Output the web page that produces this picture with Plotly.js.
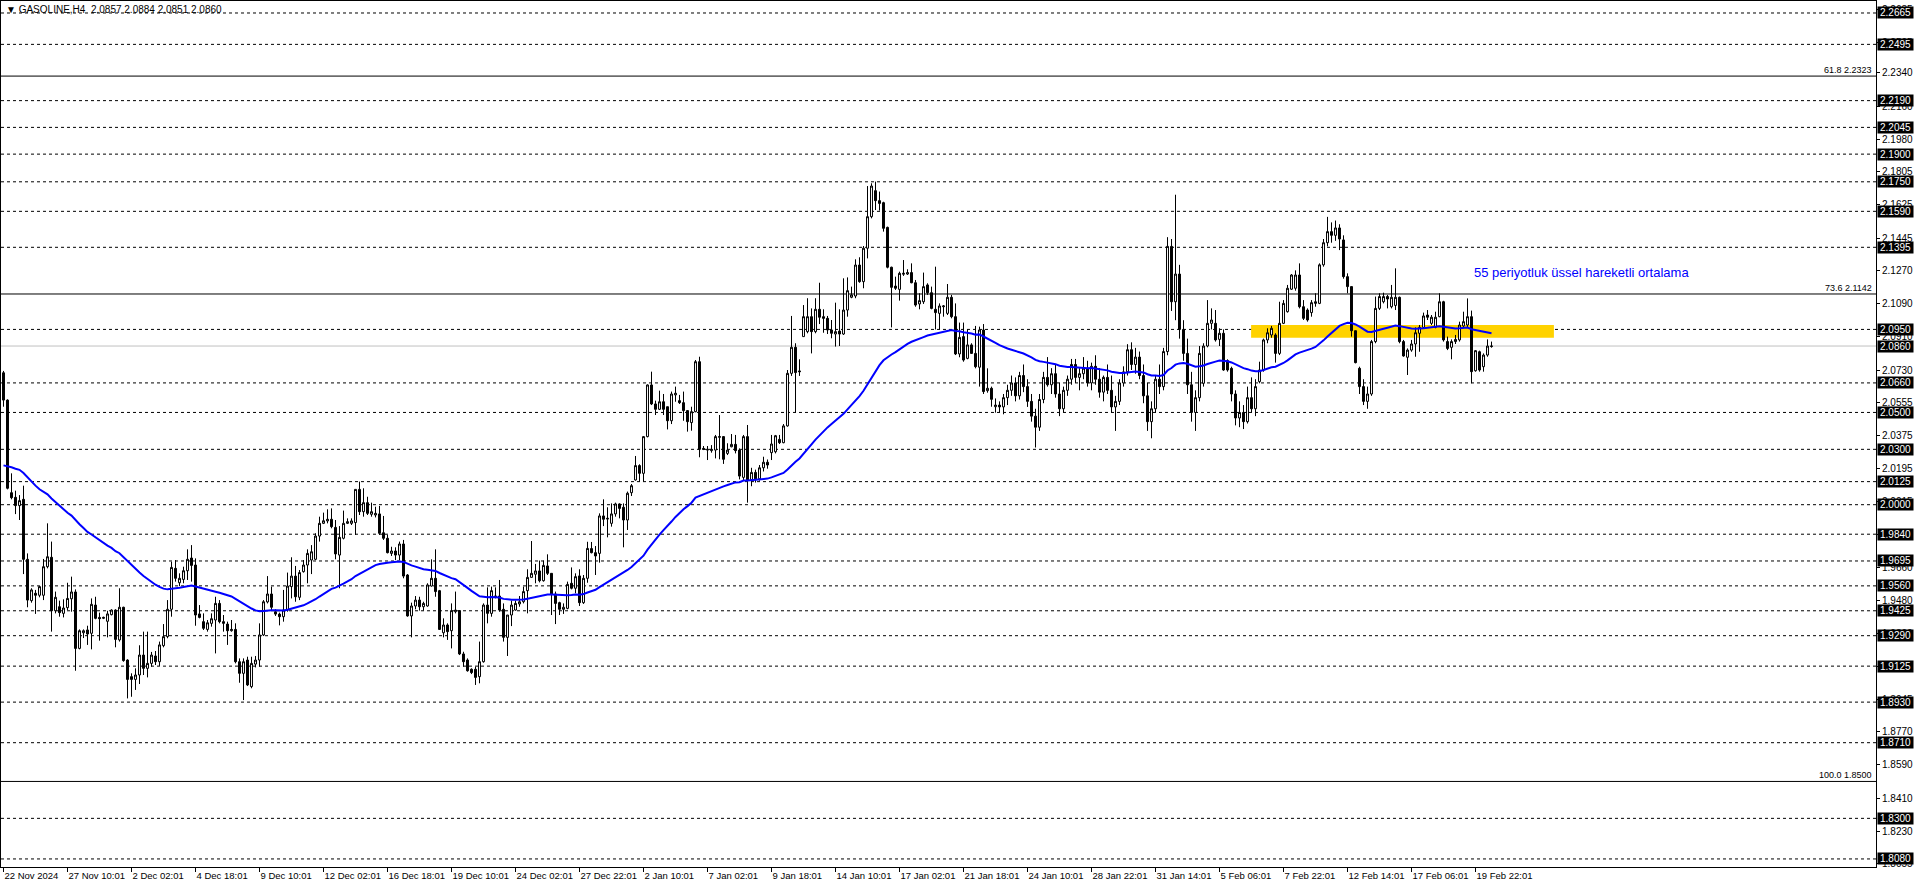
<!DOCTYPE html>
<html><head><meta charset="utf-8">
<script src="https://cdn.plot.ly/plotly-3.0.1.min.js"></script>
<style>html,body{margin:0;padding:0;background:#fff;overflow:hidden}#chart{width:1916px;height:888px}</style>
</head><body><div id="chart"></div>
<script>
const symbolTitle = "\u25BC GASOLINE,H4  2.0857 2.0884 2.0851 2.0860";

const openP = [
2.0715,2.0567,2.0065,2.0040,1.9995,2.0029,1.9704,1.9480,1.9520,1.9509,
1.9509,1.9664,1.9715,1.9425,1.9447,1.9411,1.9442,1.9490,1.9527,1.9221,
1.9306,1.9321,1.9303,1.9456,1.9389,1.9384,1.9368,1.9404,1.9429,1.9267,
1.9444,1.9158,1.9068,1.9053,1.9077,1.9185,1.9113,1.9140,1.9180,1.9149,
1.9236,1.9285,1.9433,1.9655,1.9577,1.9595,1.9642,1.9711,1.9673,1.9408,
1.9366,1.9324,1.9357,1.9375,1.9465,1.9366,1.9353,1.9317,1.9324,1.9149,
1.9086,1.9158,1.9014,1.9136,1.9158,1.9294,1.9473,1.9516,1.9420,1.9407,
1.9393,1.9429,1.9556,1.9613,1.9498,1.9637,1.9673,1.9700,1.9704,1.9830,
1.9899,1.9912,1.9921,1.9877,1.9727,1.9818,1.9899,1.9899,1.9903,2.0083,
1.9962,2.0011,1.9948,1.9944,1.9950,1.9848,1.9818,1.9736,1.9749,1.9727,
1.9787,1.9619,1.9397,1.9451,1.9483,1.9447,1.9451,1.9559,1.9601,1.9534,
1.9306,1.9348,1.9317,1.9420,1.9426,1.9191,1.9158,1.9108,1.9108,1.9068,
1.9149,1.9456,1.9411,1.9498,1.9505,1.9433,1.9281,1.9402,1.9429,1.9462,
1.9474,1.9534,1.9606,1.9623,1.9641,1.9588,1.9668,1.9628,1.9516,1.9469,
1.9433,1.9438,1.9574,1.9547,1.9614,1.9469,1.9601,1.9762,1.9740,1.9736,
1.9939,1.9922,1.9899,1.9950,2.0004,1.9986,1.9917,2.0065,2.0134,2.0212,
2.0170,2.0369,2.0649,2.0546,2.0517,2.0558,2.0531,2.0455,2.0595,2.0564,
2.0553,2.0510,2.0445,2.0504,2.0775,2.0305,2.0296,2.0293,2.0296,2.0365,
2.0369,2.0278,2.0314,2.0327,2.0296,2.0148,2.0369,2.0134,2.0175,2.0140,
2.0200,2.0230,2.0282,2.0287,2.0354,2.0336,2.0427,2.0712,2.0853,2.0725,
2.0911,2.0938,2.1019,2.0938,2.1059,2.1019,2.1010,2.0947,2.0925,2.0941,
2.0925,2.1055,2.1124,2.1131,2.1299,2.1209,2.1390,2.1561,2.1702,2.1648,
2.1637,2.1503,2.1287,2.1185,2.1167,2.1249,2.1250,2.1258,2.1203,2.1088,
2.1100,2.1191,2.1149,2.1059,2.1037,2.1073,2.1037,2.1124,2.1019,2.0817,
2.0911,2.0793,2.0866,2.0820,2.0745,2.0947,2.0618,2.0631,2.0531,2.0540,
2.0530,2.0580,2.0620,2.0660,2.0590,2.0700,2.0640,2.0560,2.0480,2.0420,
2.0570,2.0690,2.0650,2.0710,2.0600,2.0520,2.0620,2.0680,2.0760,2.0690,
2.0710,2.0740,2.0660,2.0750,2.0680,2.0610,2.0690,2.0620,2.0530,2.0560,
2.0660,2.0720,2.0840,2.0760,2.0800,2.0700,2.0590,2.0450,2.0520,2.0680,
2.0640,2.0830,2.1400,2.1100,2.1250,2.0950,2.0820,2.0650,2.0500,2.0580,
2.0658,2.0860,2.0983,2.0983,2.0896,2.0929,2.0781,2.0739,2.0600,2.0470,
2.0500,2.0450,2.0580,2.0520,2.0667,2.0730,2.0893,2.0920,2.0920,2.0820,
2.0983,2.1046,2.1168,2.1173,2.1245,2.1073,2.1055,2.1041,2.1091,2.1091,
2.1300,2.1420,2.1480,2.1460,2.1500,2.1435,2.1236,2.1182,2.0943,2.0739,
2.0640,2.0560,2.0600,2.0884,2.1064,2.1100,2.1128,2.1073,2.1080,2.1124,
2.0884,2.0799,2.0838,2.0871,2.0929,2.0961,2.1028,2.0983,2.0961,2.1019,
2.1100,2.0884,2.0853,2.0884,2.0893,2.0969,2.0974,2.1019,2.0726,2.0829,
2.0748,2.0811,2.0857
];
const highP = [
2.0725,2.0571,2.0170,2.0076,2.0052,2.0103,1.9736,1.9547,1.9538,1.9559,
1.9706,1.9899,1.9800,1.9529,1.9480,1.9487,1.9577,1.9610,1.9541,1.9324,
1.9324,1.9344,1.9492,1.9501,1.9415,1.9393,1.9425,1.9433,1.9433,1.9547,
1.9447,1.9162,1.9086,1.9113,1.9238,1.9312,1.9312,1.9202,1.9207,1.9258,
1.9353,1.9483,1.9691,1.9700,1.9628,1.9664,1.9758,1.9781,1.9709,1.9456,
1.9411,1.9375,1.9411,1.9501,1.9483,1.9402,1.9366,1.9375,1.9357,1.9167,
1.9167,1.9176,1.9176,1.9180,1.9357,1.9483,1.9613,1.9556,1.9433,1.9415,
1.9538,1.9632,1.9715,1.9668,1.9646,1.9700,1.9758,1.9781,1.9845,1.9935,
1.9957,1.9975,1.9980,1.9917,1.9884,1.9968,1.9926,1.9926,2.0083,2.0125,
2.0089,2.0043,2.0011,1.9989,1.9993,1.9939,1.9836,1.9772,1.9769,1.9800,
1.9809,1.9624,1.9469,1.9505,1.9501,1.9474,1.9574,1.9704,1.9758,1.9538,
1.9384,1.9357,1.9465,1.9529,1.9429,1.9203,1.9167,1.9113,1.9122,1.9258,
1.9465,1.9552,1.9556,1.9552,1.9592,1.9465,1.9402,1.9480,1.9480,1.9505,
1.9556,1.9650,1.9803,1.9679,1.9697,1.9697,1.9731,1.9628,1.9529,1.9474,
1.9465,1.9583,1.9660,1.9628,1.9650,1.9619,1.9799,1.9798,1.9776,1.9953,
2.0029,1.9986,2.0007,2.0011,2.0007,2.0007,2.0071,2.0112,2.0264,2.0219,
2.0372,2.0652,2.0721,2.0564,2.0618,2.0600,2.0531,2.0613,2.0640,2.0595,
2.0613,2.0513,2.0531,2.0784,2.0802,2.0318,2.0318,2.0323,2.0378,2.0486,
2.0372,2.0333,2.0383,2.0378,2.0305,2.0378,2.0432,2.0200,2.0190,2.0215,
2.0260,2.0245,2.0378,2.0378,2.0378,2.0437,2.0730,2.1023,2.0875,2.0788,
2.1082,2.1119,2.1064,2.1119,2.1203,2.1059,2.1023,2.1001,2.1095,2.1059,
2.1227,2.1232,2.1182,2.1330,2.1341,2.1402,2.1727,2.1742,2.1751,2.1697,
2.1642,2.1507,2.1290,2.1236,2.1263,2.1326,2.1276,2.1308,2.1218,2.1146,
2.1258,2.1200,2.1182,2.1290,2.1091,2.1082,2.1196,2.1137,2.1091,2.0987,
2.0987,2.0950,2.0875,2.0969,2.0965,2.0979,2.0739,2.0640,2.0576,2.0560,
2.0600,2.0650,2.0700,2.0690,2.0720,2.0760,2.0680,2.0600,2.0520,2.0600,
2.0720,2.0800,2.0740,2.0760,2.0660,2.0640,2.0700,2.0790,2.0790,2.0740,
2.0800,2.0780,2.0770,2.0810,2.0740,2.0700,2.0760,2.0700,2.0590,2.0680,
2.0750,2.0870,2.0880,2.0850,2.0830,2.0760,2.0660,2.0560,2.0700,2.0760,
2.0850,2.1450,2.1440,2.1680,2.1300,2.1000,2.0900,2.0720,2.0620,2.0860,
2.0875,2.1109,2.1064,2.1055,2.0956,2.0950,2.0788,2.0748,2.0620,2.0560,
2.0540,2.0640,2.0690,2.0680,2.0775,2.0900,2.0956,2.0969,2.0929,2.1100,
2.1109,2.1191,2.1250,2.1270,2.1308,2.1109,2.1064,2.1109,2.1146,2.1308,
2.1440,2.1560,2.1530,2.1540,2.1520,2.1460,2.1254,2.1182,2.0943,2.0748,
2.0680,2.0640,2.0893,2.1128,2.1146,2.1149,2.1137,2.1191,2.1281,2.1128,
2.0893,2.0847,2.0893,2.0961,2.0974,2.1041,2.1055,2.1028,2.1046,2.1146,
2.1105,2.0911,2.0896,2.0920,2.0992,2.1046,2.1118,2.1052,2.0838,2.0835,
2.0820,2.0896,2.0884
];
const lowP = [
2.0531,2.0083,2.0029,1.9949,1.9917,1.9624,1.9444,1.9469,1.9408,1.9498,
1.9483,1.9655,1.9312,1.9411,1.9393,1.9389,1.9429,1.9420,1.9100,1.9216,
1.9277,1.9240,1.9216,1.9379,1.9263,1.9380,1.9281,1.9400,1.9227,1.9258,
1.9149,1.8950,1.8959,1.8996,1.9028,1.9077,1.9064,1.9122,1.9131,1.9126,
1.9227,1.9276,1.9393,1.9583,1.9559,1.9574,1.9592,1.9583,1.9344,1.9384,
1.9321,1.9312,1.9339,1.9194,1.9357,1.9312,1.9240,1.9312,1.9140,1.9035,
1.8941,1.9017,1.9005,1.9118,1.9122,1.9288,1.9465,1.9429,1.9397,1.9346,
1.9366,1.9420,1.9492,1.9474,1.9483,1.9632,1.9574,1.9624,1.9700,1.9800,
1.9895,1.9899,1.9872,1.9704,1.9547,1.9812,1.9895,1.9890,1.9836,1.9944,
1.9935,1.9944,1.9935,1.9931,1.9836,1.9809,1.9736,1.9722,1.9700,1.9700,
1.9601,1.9393,1.9281,1.9433,1.9426,1.9426,1.9447,1.9556,1.9501,1.9321,
1.9281,1.9267,1.9221,1.9411,1.9185,1.9122,1.9095,1.9082,1.9023,1.9032,
1.9144,1.9357,1.9393,1.9492,1.9420,1.9258,1.9180,1.9342,1.9426,1.9447,
1.9465,1.9411,1.9606,1.9574,1.9579,1.9583,1.9619,1.9402,1.9353,1.9402,
1.9408,1.9433,1.9541,1.9520,1.9451,1.9462,1.9577,1.9736,1.9619,1.9686,
1.9884,1.9823,1.9881,1.9935,1.9926,1.9769,1.9863,2.0047,2.0130,2.0125,
2.0125,2.0365,2.0540,2.0486,2.0513,2.0486,2.0408,2.0437,2.0558,2.0546,
2.0455,2.0396,2.0401,2.0501,2.0257,2.0296,2.0242,2.0282,2.0251,2.0246,
2.0221,2.0269,2.0311,2.0278,2.0137,2.0134,2.0011,2.0100,2.0120,2.0130,
2.0180,2.0195,2.0242,2.0278,2.0329,2.0333,2.0423,2.0698,2.0499,2.0698,
2.0911,2.0929,2.0820,2.0929,2.0979,2.0932,2.0925,2.0902,2.0857,2.0860,
2.0920,2.1019,2.1119,2.1119,2.1203,2.1173,2.1335,2.1552,2.1597,2.1594,
2.1480,2.1281,2.0961,2.1164,2.1106,2.1240,2.1245,2.1200,2.1073,2.1059,
2.1088,2.1137,2.1059,2.0950,2.0950,2.1019,2.1028,2.1010,2.0811,2.0799,
2.0775,2.0788,2.0817,2.0739,2.0640,2.0600,2.0607,2.0531,2.0499,2.0500,
2.0490,2.0540,2.0590,2.0560,2.0570,2.0610,2.0530,2.0450,2.0310,2.0400,
2.0550,2.0640,2.0600,2.0580,2.0480,2.0500,2.0590,2.0650,2.0660,2.0620,
2.0680,2.0640,2.0620,2.0650,2.0580,2.0560,2.0600,2.0500,2.0400,2.0540,
2.0640,2.0700,2.0730,2.0710,2.0680,2.0550,2.0400,2.0360,2.0500,2.0600,
2.0620,2.0810,2.1050,2.1000,2.0900,2.0780,2.0600,2.0450,2.0400,2.0560,
2.0640,2.0853,2.0950,2.0884,2.0860,2.0726,2.0721,2.0560,2.0430,2.0420,
2.0410,2.0440,2.0500,2.0480,2.0658,2.0721,2.0875,2.0905,2.0770,2.0811,
2.0979,2.1041,2.1164,2.1160,2.1064,2.1001,2.0992,2.1019,2.1073,2.1087,
2.1290,2.1400,2.1420,2.1430,2.1380,2.1225,2.1146,2.0911,2.0766,2.0600,
2.0540,2.0520,2.0590,2.0875,2.1055,2.1091,2.1064,2.1064,2.1055,2.0875,
2.0802,2.0703,2.0829,2.0802,2.0829,2.0956,2.1001,2.0974,2.0956,2.1016,
2.0884,2.0838,2.0788,2.0871,2.0884,2.0961,2.0961,2.0658,2.0721,2.0721,
2.0721,2.0802,2.0851
];
const closeP = [
2.0567,2.0089,2.0038,1.9995,2.0022,1.9704,1.9483,1.9538,1.9509,1.9556,
1.9664,1.9718,1.9425,1.9498,1.9415,1.9440,1.9492,1.9527,1.9221,1.9317,
1.9317,1.9299,1.9460,1.9384,1.9382,1.9389,1.9408,1.9429,1.9270,1.9444,
1.9155,1.9053,1.9053,1.9077,1.9185,1.9113,1.9140,1.9185,1.9149,1.9240,
1.9285,1.9433,1.9660,1.9601,1.9601,1.9642,1.9704,1.9671,1.9402,1.9389,
1.9330,1.9360,1.9382,1.9465,1.9366,1.9357,1.9317,1.9324,1.9149,1.9086,
1.9149,1.9023,1.9140,1.9158,1.9294,1.9474,1.9516,1.9444,1.9407,1.9393,
1.9429,1.9559,1.9613,1.9501,1.9632,1.9673,1.9736,1.9745,1.9830,1.9899,
1.9913,1.9921,1.9881,1.9733,1.9823,1.9899,1.9908,1.9912,2.0083,1.9962,
2.0011,1.9953,1.9962,1.9953,1.9845,1.9818,1.9740,1.9749,1.9727,1.9787,
1.9613,1.9397,1.9451,1.9483,1.9447,1.9465,1.9565,1.9601,1.9529,1.9324,
1.9348,1.9312,1.9426,1.9429,1.9191,1.9149,1.9100,1.9090,1.9064,1.9149,
1.9456,1.9411,1.9534,1.9505,1.9429,1.9281,1.9402,1.9456,1.9465,1.9474,
1.9529,1.9606,1.9628,1.9641,1.9588,1.9671,1.9628,1.9516,1.9465,1.9433,
1.9444,1.9568,1.9547,1.9610,1.9469,1.9601,1.9763,1.9740,1.9722,1.9939,
1.9921,1.9926,1.9950,2.0004,1.9980,1.9917,2.0062,2.0103,2.0212,2.0170,
2.0369,2.0649,2.0546,2.0517,2.0558,2.0517,2.0455,2.0600,2.0604,2.0553,
2.0510,2.0450,2.0504,2.0775,2.0300,2.0300,2.0300,2.0300,2.0369,2.0369,
2.0246,2.0296,2.0327,2.0293,2.0155,2.0369,2.0134,2.0175,2.0140,2.0200,
2.0230,2.0215,2.0329,2.0374,2.0336,2.0427,2.0712,2.0853,2.0716,2.0721,
2.1019,2.1019,2.0938,2.1059,2.1016,2.1010,2.0947,2.0929,2.0938,2.0925,
2.1055,2.1160,2.1137,2.1299,2.1209,2.1390,2.1561,2.1727,2.1648,2.1633,
2.1498,2.1287,2.1178,2.1173,2.1254,2.1254,2.1258,2.1203,2.1082,2.1106,
2.1182,2.1149,2.1064,2.1041,2.1077,2.1077,2.1124,2.1019,2.0817,2.0907,
2.0784,2.0866,2.0820,2.0748,2.0947,2.0613,2.0631,2.0571,2.0540,2.0530,
2.0580,2.0620,2.0660,2.0590,2.0700,2.0640,2.0560,2.0480,2.0420,2.0570,
2.0690,2.0650,2.0710,2.0600,2.0520,2.0620,2.0680,2.0760,2.0690,2.0710,
2.0740,2.0660,2.0750,2.0680,2.0610,2.0690,2.0620,2.0530,2.0560,2.0660,
2.0720,2.0840,2.0760,2.0800,2.0700,2.0590,2.0450,2.0520,2.0680,2.0640,
2.0830,2.1400,2.1100,2.1250,2.0950,2.0820,2.0650,2.0500,2.0580,2.0820,
2.0860,2.0983,2.1001,2.0893,2.0929,2.0730,2.0730,2.0600,2.0470,2.0500,
2.0450,2.0580,2.0520,2.0640,2.0730,2.0893,2.0932,2.0956,2.0820,2.0983,
2.1091,2.1173,2.1245,2.1245,2.1073,2.1010,2.1001,2.1095,2.1100,2.1300,
2.1420,2.1480,2.1460,2.1500,2.1440,2.1236,2.1182,2.0943,2.0770,2.0640,
2.0560,2.0600,2.0884,2.1064,2.1128,2.1128,2.1115,2.1124,2.1124,2.0884,
2.0806,2.0838,2.0871,2.0932,2.0961,2.1023,2.1016,2.1016,2.1016,2.1100,
2.0893,2.0847,2.0884,2.0896,2.0974,2.0992,2.1019,2.0721,2.0835,2.0730,
2.0811,2.0860,2.0860
];

const tickIdx = [0,16,32,48,64,80,96,112,128,144,160,176,192,208,224,240,256,272,288,304,320,336,352,368];
const tickLabels = ["22 Nov 2024","27 Nov 10:01","2 Dec 02:01","4 Dec 18:01","9 Dec 10:01","12 Dec 02:01",
"16 Dec 18:01","19 Dec 10:01","24 Dec 02:01","27 Dec 22:01","2 Jan 10:01","7 Jan 02:01","9 Jan 18:01",
"14 Jan 10:01","17 Jan 02:01","21 Jan 18:01","24 Jan 10:01","28 Jan 22:01","31 Jan 14:01","5 Feb 06:01",
"7 Feb 22:01","12 Feb 14:01","17 Feb 06:01","19 Feb 22:01"];

const axisTicks = [2.2685,2.2505,2.2340,2.2160,2.1980,2.1805,2.1625,2.1445,2.1270,2.1090,2.0910,2.0730,2.0555,
2.0375,2.0195,2.0015,1.9840,1.9660,1.9480,1.9300,1.9125,1.8945,1.8770,1.8590,1.8410,1.8230,1.8055];

const levelLines = [2.2665,2.2495,2.2190,2.2045,2.1900,2.1750,2.1590,2.1395,2.0950,2.0660,2.0500,2.0300,
2.0125,2.0000,1.9840,1.9695,1.9560,1.9425,1.9290,1.9125,1.8930,1.8710,1.8300,1.8080];
const currentPrice = 2.0860;
const fibLevels = [2.2323, 2.1142, 1.8500];
const fibNames = ["61.8", "73.6", "100.0"];
const emaPeriod = 55;
const emaSeed = 2.0200;
const zoneX = [311.9, 387.6];
const zoneY = [2.0905, 2.0974];
const emaLabelText = "55 periyotluk \u00fcssel hareketli ortalama";
const emaLabelPos = [367.1, 2.1256];
const yRange = [1.80363, 2.27300];
const xRange = [-0.625, 468.125];

const FONT = "Liberation Sans, Arial, sans-serif";
const xIdx = openP.map((_, i) => i);
const alpha = 2 / (emaPeriod + 1);
const ema = [];
let prev = emaSeed;
for (const c of closeP) { prev = prev + alpha * (c - prev); ema.push(prev); }

const shapes = [];
shapes.push({type:'rect', xref:'x', yref:'y', x0:zoneX[0], x1:zoneX[1], y0:zoneY[0], y1:zoneY[1],
  fillcolor:'#FFD200', line:{width:0}, layer:'below'});
levelLines.forEach(l => shapes.push({type:'line', xref:'paper', x0:0, x1:1, yref:'y', y0:l, y1:l,
  line:{color:'#000', width:1, dash:'3px,3px'}, layer:'below'}));
shapes.push({type:'line', xref:'paper', x0:0, x1:1, yref:'y', y0:currentPrice, y1:currentPrice,
  line:{color:'#c0c0c0', width:1}, layer:'below'});
fibLevels.forEach(l => shapes.push({type:'line', xref:'paper', x0:0, x1:1, yref:'y', y0:l, y1:l,
  line:{color:'#000', width:1}, layer:'below'}));

const annotations = [];
levelLines.concat([currentPrice]).forEach(l => annotations.push({
  xref:'paper', x:1, xanchor:'left', xshift:1, yref:'y', y:l, yanchor:'middle',
  text:l.toFixed(4), showarrow:false, bgcolor:'#000', width:35, height:11, borderpad:0,
  font:{family:FONT, size:10, color:'#fff'}}));
fibLevels.forEach((l, i) => annotations.push({
  xref:'paper', x:1, xanchor:'right', xshift:-2, yref:'y', y:l, yanchor:'bottom', yshift:-1,
  text:fibNames[i] + ' ' + l.toFixed(4), showarrow:false, font:{family:FONT, size:9, color:'#000'}}));
annotations.push({xref:'paper', yref:'paper', x:0, y:1, xanchor:'left', yanchor:'top', xshift:3, yshift:-1,
  text:symbolTitle, showarrow:false, font:{family:FONT, size:10, color:'#000'}});
annotations.push({xref:'x', yref:'y', x:emaLabelPos[0], y:emaLabelPos[1], xanchor:'left', yanchor:'middle',
  text:emaLabelText, showarrow:false, font:{family:FONT, size:13, color:'#0000ff'}});

const traces = [
  {type:'candlestick', x:xIdx, open:openP, high:highP, low:lowP, close:closeP,
   increasing:{line:{color:'#000', width:1}, fillcolor:'#fff'},
   decreasing:{line:{color:'#000', width:1}, fillcolor:'#000'},
   whiskerwidth:0, hoverinfo:'skip', showlegend:false},
  {type:'scatter', mode:'lines', x:xIdx, y:ema, line:{color:'#0000ff', width:2}, hoverinfo:'skip', showlegend:false}
];

const layout = {
  width:1916, height:888, margin:{l:1, r:40, t:1, b:21},
  paper_bgcolor:'#fff', plot_bgcolor:'#fff', showlegend:false,
  xaxis:{range:xRange, showgrid:false, zeroline:false, showline:true, mirror:true, linecolor:'#000', linewidth:1,
    ticks:'outside', ticklen:4, tickcolor:'#000', tickvals:tickIdx, ticktext:tickLabels, tickangle:0,
    ticklabelposition:'outside right', tickfont:{family:FONT, size:9.5, color:'#000'},
    rangeslider:{visible:false}, fixedrange:true, automargin:false},
  yaxis:{side:'right', range:yRange, showgrid:false, zeroline:false, showline:true, mirror:true,
    linecolor:'#000', linewidth:1, ticks:'outside', ticklen:3, tickcolor:'#000',
    tickvals:axisTicks, ticktext:axisTicks.map(v => v.toFixed(4)),
    tickfont:{family:FONT, size:10, color:'#000'}, fixedrange:true, automargin:false},
  shapes:shapes, annotations:annotations
};

Plotly.newPlot('chart', traces, layout, {staticPlot:true, displayModeBar:false});
</script></body></html>
